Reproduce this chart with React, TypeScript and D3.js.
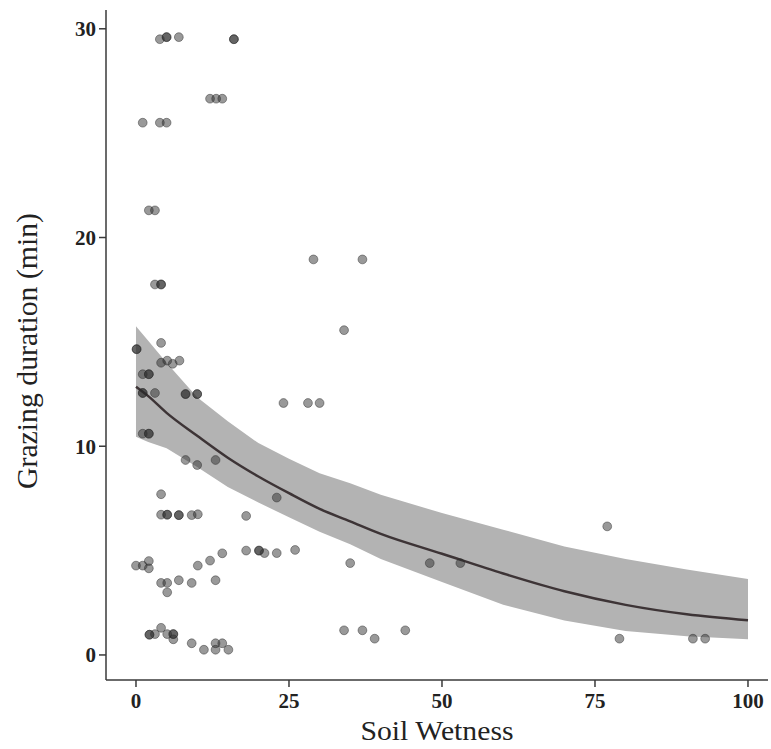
import React from "react";
import * as d3 from "d3";

// observed points: soil wetness, grazing duration (min)
const obsWetness = [
  3.9, 5, 5, 7, 16, 16,
  12.1, 13.1, 14.1,
  1.1, 3.9, 5,
  2.1, 3.1,
  3.1, 4.1, 4.1,
  4.1, 0.1, 0.1,
  4.1, 5.1, 6, 7.1,
  1.1, 2.1, 2.1,
  1.1, 1.1, 3.1, 8.1, 8.1, 10, 10,
  1.1, 2.1, 2.1,
  8.1, 10, 13,
  4.1, 4.1, 5.1, 5.1, 7, 7, 9.1, 10.1,
  0, 1.1, 2.1, 2.1, 10.1, 12.1, 14.1,
  4.1, 5.1, 5.1, 7, 9.1, 13,
  2.2, 2.2, 3.1, 4.1, 5.1, 6.1, 6.1, 6.1,
  9.1, 11.1, 13, 14.1, 13, 15.1,
  29, 37, 34, 24.1, 28.1, 30,
  23, 18, 18, 20.1, 20.1, 21, 23, 26,
  35, 48, 53,
  34, 37, 39, 44,
  77, 79, 91, 93,
];
const obsDuration = [
  29.5, 29.6, 29.6, 29.6, 29.5, 29.5,
  26.65, 26.65, 26.65,
  25.5, 25.5, 25.5,
  21.3, 21.3,
  17.75, 17.75, 17.75,
  14.95, 14.65, 14.65,
  14.0, 14.1, 13.95, 14.1,
  13.45, 13.45, 13.45,
  12.55, 12.55, 12.55, 12.5, 12.5, 12.5, 12.5,
  10.6, 10.6, 10.6,
  9.34, 9.1, 9.34,
  7.7, 6.72, 6.72, 6.72, 6.7, 6.7, 6.7, 6.74,
  4.28, 4.28, 4.5, 4.15, 4.28, 4.52, 4.87,
  3.45, 3.45, 3.0, 3.58, 3.45, 3.58,
  0.97, 0.97, 1.0, 1.3, 1.0, 1.0, 1.0, 0.75,
  0.56, 0.25, 0.56, 0.56, 0.25, 0.25,
  18.95, 18.95, 15.56, 12.07, 12.07, 12.07,
  7.54, 6.66, 5.0, 5.0, 5.0, 4.88, 4.88, 5.03,
  4.4, 4.4, 4.4,
  1.18, 1.18, 0.78, 1.18,
  6.16, 0.78, 0.78, 0.78,
];

// fitted curve and its confidence band
const fitWetness = [0, 2, 5, 10, 15, 20, 25, 30, 35, 40, 50, 60, 70, 80, 90, 100];
const fitValue = [12.85, 12.4, 11.6, 10.5, 9.45, 8.55, 7.75, 7.0, 6.4, 5.8, 4.85, 3.9, 3.05, 2.4, 1.95, 1.66];
const fitUpper = [15.75, 15.05, 14.0, 12.35, 11.2, 10.15, 9.4, 8.7, 8.23, 7.67, 6.8, 6.0, 5.2, 4.6, 4.1, 3.64];
const fitLower = [10.46, 10.2, 9.9, 9.0, 8.05, 7.3, 6.6, 5.9, 5.3, 4.6, 3.5, 2.4, 1.65, 1.15, 0.9, 0.75];

const xTicks = [0, 25, 50, 75, 100];
const yTicks = [0, 10, 20, 30];

const W = 771;
const H = 749;
const margin = { top: 10, right: 3, bottom: 69, left: 106 };

export default function App() {
  const innerW = W - margin.left - margin.right;
  const innerH = H - margin.top - margin.bottom;

  const x = d3.scaleLinear().domain([-4.9, 103.27]).range([0, innerW]);
  const y = d3.scaleLinear().domain([-1.2, 30.9]).range([innerH, 0]);

  const band = d3
    .area<number>()
    .x((d, i) => x(fitWetness[i]))
    .y0((d, i) => y(fitLower[i]))
    .y1((d, i) => y(fitUpper[i]));

  const line = d3
    .line<number>()
    .x((d, i) => x(fitWetness[i]))
    .y((d) => y(d))
    .curve(d3.curveMonotoneX);

  const serif = "'Liberation Serif', 'Times New Roman', serif";
  const axisColor = "#3a3a3a";

  return (
    <svg width={W} height={H} style={{ position: "absolute", left: 0, top: 0, background: "#fff" }}>
      <g transform={`translate(${margin.left},${margin.top})`}>
        <path d={band(fitValue) || ""} fill="#b3b3b3" />
        <path d={line(fitValue) || ""} fill="none" stroke="#3d3436" strokeWidth={2.5} />

        {obsWetness.map((w, i) => (
          <circle
            key={i}
            cx={x(w)}
            cy={y(obsDuration[i])}
            r={4.4}
            fill="#2a2a2a"
            fillOpacity={0.48}
            stroke="#2a2a2a"
            strokeOpacity={0.45}
            strokeWidth={1}
          />
        ))}

        {/* y axis */}
        <line x1={0} x2={0} y1={0} y2={innerH} stroke={axisColor} strokeWidth={1.5} />
        {yTicks.map((t) => (
          <g key={t} transform={`translate(0,${y(t)})`}>
            <line x1={-7} x2={0} stroke={axisColor} strokeWidth={1.5} />
            <text
              x={-10}
              dy="0.35em"
              textAnchor="end"
              fontFamily={serif}
              fontWeight="bold"
              fontSize={21}
              fill="#222"
            >
              {t}
            </text>
          </g>
        ))}

        {/* x axis */}
        <line x1={0} x2={innerW} y1={innerH} y2={innerH} stroke={axisColor} strokeWidth={1.5} />
        {xTicks.map((t) => (
          <g key={t} transform={`translate(${x(t)},${innerH})`}>
            <line y1={0} y2={7} stroke={axisColor} strokeWidth={1.5} />
            <text
              y={28}
              textAnchor="middle"
              fontFamily={serif}
              fontWeight="bold"
              fontSize={21}
              fill="#222"
            >
              {t}
            </text>
          </g>
        ))}
      </g>

      <text
        x={437}
        y={740}
        textAnchor="middle"
        fontFamily={serif}
        fontSize={27}
        fill="#222"
        textLength={153}
        lengthAdjust="spacingAndGlyphs"
      >
        Soil Wetness
      </text>
      <text
        transform="translate(37,351) rotate(-90)"
        textAnchor="middle"
        fontFamily={serif}
        fontSize={30}
        fill="#222"
        textLength={276}
        lengthAdjust="spacingAndGlyphs"
      >
        Grazing duration (min)
      </text>
    </svg>
  );
}
